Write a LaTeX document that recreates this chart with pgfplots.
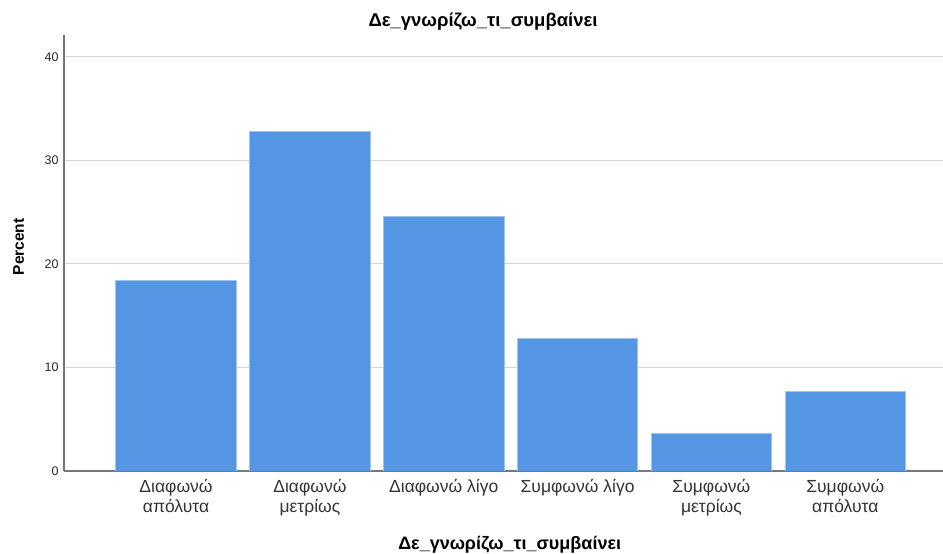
\documentclass[border=0pt]{standalone}
\usepackage{fontspec}
\setmainfont{Liberation Sans}
\usepackage{pgfplots}
\pgfplotsset{compat=1.18}
\definecolor{barblue}{RGB}{85,150,228}
\definecolor{baredge}{RGB}{160,195,240}
\definecolor{gridgray}{RGB}{212,212,212}
\definecolor{axisgray}{RGB}{120,120,120}
\begin{document}
\begin{tikzpicture}
\begin{axis}[
  scale only axis, width=879pt, height=436pt,
  xmin=-0.837, xmax=5.73, ymin=0, ymax=42.1,
  axis lines=left,
  axis line style={-, draw=axisgray, line width=1.1pt},
  ybar, bar width=0.9,
  ytick={0,10,20,30,40},
  ymajorgrids, grid style={gridgray, line width=1.2pt},
  major tick length=0pt,
  /pgf/number format/assume math mode=true,
  yticklabel style={font=\fontsize{12.5}{14}\selectfont, text=black!85, xshift=-2pt},
  xtick={0,1,2,3,4,5},
  xticklabels={{Διαφωνώ\\απόλυτα},{Διαφωνώ\\μετρίως},{Διαφωνώ λίγο},{Συμφωνώ λίγο},{Συμφωνώ\\μετρίως},{Συμφωνώ\\απόλυτα}},
  xticklabel style={align=center, font=\fontsize{17.5}{20}\selectfont, text=black!80, yshift=-5pt},
  title={Δε\_γνωρίζω\_τι\_συμβαίνει},
  title style={at={(rel axis cs:0.4767,1)}, anchor=center, yshift=7pt, font=\bfseries\fontsize{18.5}{20}\selectfont},
  xlabel={Δε\_γνωρίζω\_τι\_συμβαίνει},
  xlabel style={at={(rel axis cs:0.507,0)}, anchor=center, yshift=-74pt, font=\bfseries\fontsize{18}{20}\selectfont},
  ylabel={Percent},
  ylabel style={at={(rel axis cs:0,0.514)}, anchor=center, yshift=45.5pt, font=\bfseries\fontsize{15.5}{17}\selectfont},
]
\addplot[fill=barblue, draw=baredge, line width=0.8pt] coordinates {(0,18.4) (1,32.8) (2,24.6) (3,12.8) (4,3.6) (5,7.7)};
\coordinate (bl) at (rel axis cs:0,0);
\coordinate (tr) at (rel axis cs:1,1);
\end{axis}
\pgfresetboundingbox
\path ([shift={(-64pt,-83pt)}]bl) rectangle ([shift={(0pt,35pt)}]tr);
\end{tikzpicture}
\end{document}
